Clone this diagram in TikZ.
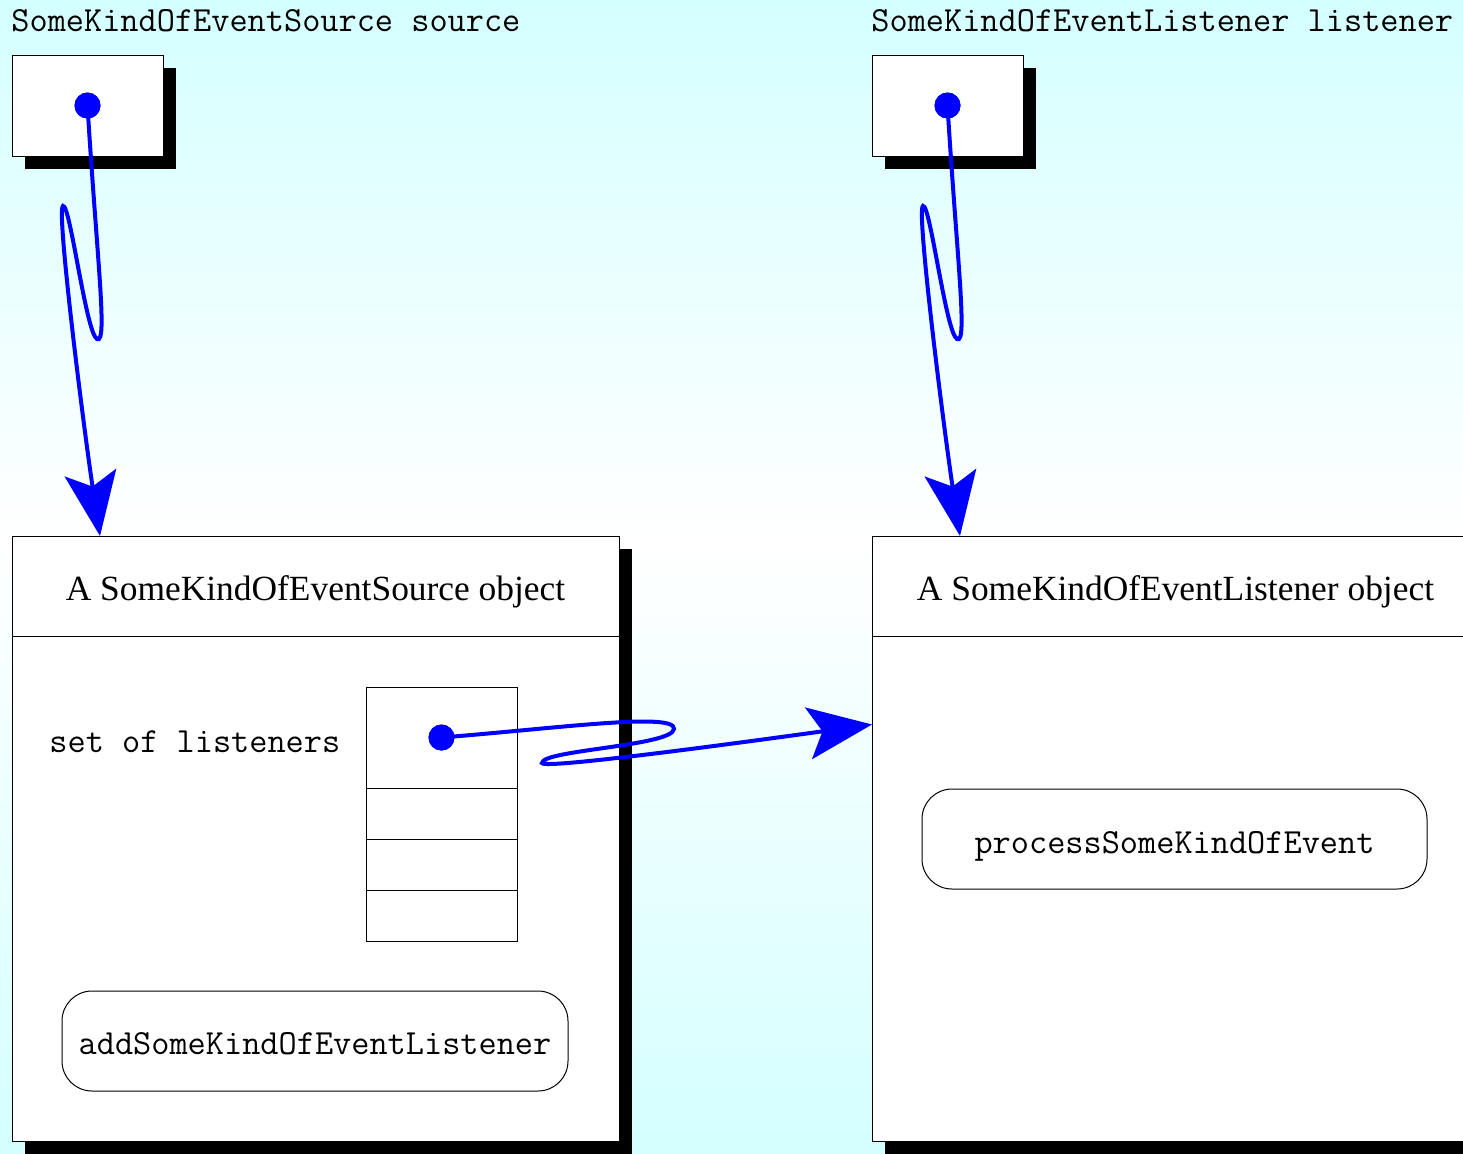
\documentclass[tikz,border=0pt]{standalone}
\usepackage{fontspec}
\setmainfont{Liberation Serif}
\usetikzlibrary{arrows.meta, shadows, positioning}
\definecolor{hellcyan}{RGB}{212,255,255}

\begin{document}
\begin{tikzpicture}[x=0.5pt, y=-0.5pt,
			>={Stealth[length=32pt, width=26pt, inset=7pt]},   %Pfeilspitzen
			kasten/.style={draw, fill=white, line width=0.5pt, inner sep=0pt, outer sep=0pt,
				drop shadow={shadow xshift=6.5pt, shadow yshift=-6.5pt, fill=black, opacity=1}},
			zelle/.style={draw, fill=white, line width=0.5pt, inner sep=0pt, outer sep=0pt, minimum width=75.5pt, minimum height=25.5pt},
			methode/.style={draw, fill=white, line width=0.5pt, rounded corners=15pt, minimum width=253pt, minimum height=50pt},
			mono/.style={font=\fontsize{17.65}{20}\selectfont\ttfamily, inner sep=0pt},
			titel/.style={font=\fontsize{17.7}{21}\selectfont, inner sep=0pt},
			ref/.style={blue, line width=2pt},
			punkt/.style={circle, fill=blue, inner sep=0pt, minimum size=13pt}]
			%Hintergrund
			\useasboundingbox (0,0) rectangle (1463,1153);
			\clip (0,0) rectangle (1463,1153);
			\shade[top color=hellcyan, bottom color=white] (0,0) rectangle (1463,540);
			\shade[top color=white, bottom color=hellcyan] (0,540) rectangle (1463,1153);
			% Variablen
			\node[mono, anchor=base west] (srcname) at (11,31) {SomeKindOfEventSource source};
			\node[mono, anchor=base west] (lisname) at (871,31) {SomeKindOfEventListener listener};
			\node[kasten, minimum width=75.5pt, minimum height=50.5pt] (srcvar) at (87.5,105.5) {};
			\node[kasten, minimum width=75.5pt, minimum height=50.5pt] (lisvar) at (947.5,105.5) {};
			% Objekte
			\node[kasten, minimum width=303.5pt, minimum height=302.5pt] (srcobj) at (315.5,838.5) {};
			\node[kasten, minimum width=303.5pt, minimum height=302.5pt] (lisobj) at (1175.5,838.5) {};
			\foreach \o in {srcobj, lisobj}
				\draw[line width=0.5pt] ([yshift=-50pt]\o.north west) -- ([yshift=-50pt]\o.north east);
			\node[titel, anchor=base] (srctitel) at (315.5,600) {A SomeKindOfEventSource object};
			\node[titel, anchor=base] (listitel) at (1175.5,600) {A SomeKindOfEventListener object};
			% Menge der Listener
			\node[mono, anchor=base west] (menge) at (49,752) {set of listeners};
			\node[zelle, minimum height=50.5pt] (l0) at (441.5,737.5) {};
			\foreach \i [remember=\i as \vor (initially 0)] in {1,2,3}
				\node[zelle, below=0pt of l\vor] (l\i) {};
			% Methoden
			\node[methode] (add) at (315,1041) {};
			\node[mono, anchor=base] at (315,1054) {addSomeKindOfEventListener};
			\node[methode, minimum width=252.5pt] (proc) at (1174.5,839) {};
			\node[mono, anchor=base] at (1174.5,853) {processSomeKindOfEvent};
			% Referenzen
			\node[punkt] (srcdot) at (srcvar.center) {};
			\node[punkt] (lisdot) at (lisvar.center) {};
			\node[punkt] (ldot) at (l0.center) {};
			\foreach \v/\o/\d in {src/srcobj/0, lis/lisobj/860}
				\draw[ref, ->] (\v dot.center) .. controls ({97+\d},260) and ({108+\d},345) .. ({97+\d},339)
					.. controls ({86+\d},333) and ({70+\d},203) .. ({63+\d},206)
					.. controls ({56+\d},209) and ({84+\d},430) .. ([xshift=44pt]\o.north west);
			\draw[ref, ->] (ldot.center) .. controls (560,728) and (676,712) .. (674,729)
				.. controls (672,746) and (542,750) .. (542,763)
				.. controls (542,770) and (767,739) .. ([yshift=57pt]lisobj.west);
			\node[punkt] at (srcdot) {};
			\node[punkt] at (lisdot) {};
			\node[punkt] at (ldot) {};
		\end{tikzpicture}
\end{document}
